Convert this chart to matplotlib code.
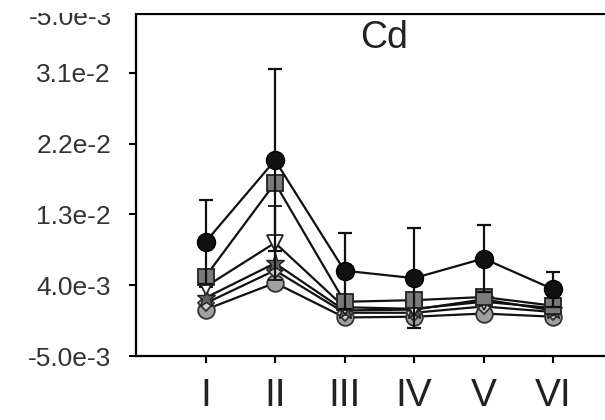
import matplotlib
matplotlib.use("Agg")
import matplotlib.pyplot as plt
from matplotlib.patches import Rectangle

plt.rcParams['font.family'] = ['Liberation Sans', 'DejaVu Sans']

sites = ['I', 'II', 'III', 'IV', 'V', 'VI']
x = [1, 2, 3, 4, 5, 6]

# values in units of 1e-3
black_circ = [9.5, 19.9, 5.85, 4.9, 7.4, 3.5]
black_err = [5.3, 11.6, 4.85, 6.4, 4.2, 2.24]
gray_sq = [5.1, 17.0, 1.9, 2.1, 2.5, 1.4]
white_tri = [3.8, 9.4, 1.2, 1.0, 1.9, 1.1]
tri_err = [0.0, 4.7, 0.0, 0.0, 0.0, 0.0]
star = [2.4, 6.8, 0.8, 0.9, 2.2, 0.8]
diamond = [1.7, 5.9, 0.5, 0.5, 1.3, 0.6]
gray_circ = [0.9, 4.3, -0.1, 0.0, 0.4, 0.0]

yticks = [-5.0e-3, 4.0e-3, 1.3e-2, 2.2e-2, 3.1e-2]
ytick_labels = ['-5.0e-3', '4.0e-3', '1.3e-2', '2.2e-2', '3.1e-2']


def s(v):
    return [a * 1e-3 for a in v]


fig = plt.figure(figsize=(6.05, 4.2), dpi=100)
ax = fig.add_axes([136 / 605, 1 - 356 / 420, 7 * 69.5 / 605, 342 / 420])

ax.plot(x, s(gray_circ), '-o', color='#111111', lw=1.6, ms=12,
        mfc='#a0a0a0', mec='#333333', mew=1.3, zorder=2)
ax.plot(x, s(diamond), '-D', color='#111111', lw=1.6, ms=8,
        mfc='#d0d0d0', mec='#333333', mew=1.3, zorder=3)
ax.plot(x, s(star), '-*', color='#111111', lw=1.6, ms=14,
        mfc='#606060', mec='#222222', mew=1.0, zorder=4)
ax.errorbar(x, s(white_tri), yerr=s(tri_err), fmt='-v', color='#111111', lw=1.6,
            ms=12, mfc='white', mec='#222222', mew=1.3, capsize=5,
            elinewidth=1.6, capthick=1.6, zorder=5)
ax.plot(x, s(gray_sq), '-s', color='#111111', lw=1.6, ms=12,
        mfc='#7a7a7a', mec='#222222', mew=1.3, zorder=6)
ax.errorbar(x, s(black_circ), yerr=s(black_err), fmt='-o', color='#111111', lw=1.6,
            ms=13, mfc='#111111', mec='black', capsize=5, elinewidth=1.6,
            capthick=1.6, zorder=7)

ax.set_xlim(0, 7)
ax.set_ylim(-5.0e-3, 3.85e-2)
ax.set_xticks(x)
ax.set_xticklabels(sites, fontsize=28, color='#222222')
ax.set_yticks(yticks)
ax.set_yticklabels(ytick_labels, fontsize=19, color='#333333')
ax.tick_params(axis='x', direction='out', length=5, width=1.5, pad=11)
ax.tick_params(axis='y', direction='out', length=5, width=1.5, pad=13)
for sp in ax.spines.values():
    sp.set_linewidth(1.6)

ax.text(0.51, 0.93, 'Cd', transform=ax.transAxes, ha='center', va='center',
        fontsize=27, color='#222222')

# cut-off label of the panel above
fig.text(112 / 605, 1 - 25 / 420, '-5.0e-3', ha='right', va='baseline',
         fontsize=19, color='#333333')
fig.add_artist(Rectangle((0, 1 - 13 / 420), 1, 13 / 420, transform=fig.transFigure,
                         facecolor='white', edgecolor='none', zorder=10))

fig.savefig('out.png', dpi=100)
